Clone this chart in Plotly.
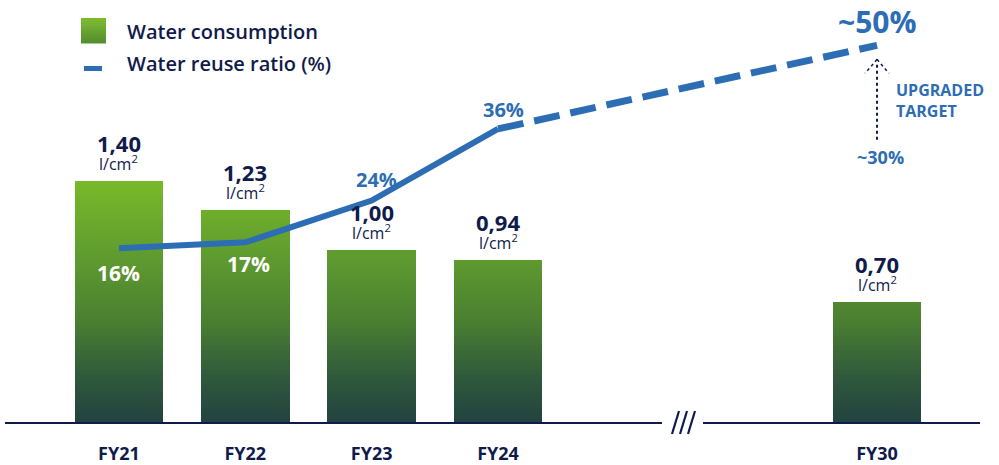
import numpy as np
import plotly.graph_objects as go

# ---------------- data ----------------
years = ["FY21", "FY22", "FY23", "FY24", "FY30"]
slot = [0, 1, 2, 3, 6]                 # category slots (FY25-29 left out -> axis break)
water = [1.40, 1.23, 1.00, 0.94, 0.70]  # l/cm2
reuse = [16, 17, 24, 36, 50]            # %
n_actual = 4                            # FY21..FY24 actual, FY30 target
old_target = 30                         # previous FY30 target (%)

# ---------------- styles ----------------
NAVY = "#101b4b"
BLUE = "#2d6db4"
FONT = "Open Sans"
stops = [(0.0, (0x22, 0x42, 0x40)), (0.25, (0x2f, 0x58, 0x3c)), (0.6, (0x4b, 0x80, 0x31)),
         (1.0, (0x61, 0x9e, 0x2f)), (1.4, (0x79, 0xb9, 0x2a))]


def grad(v):
    for (a, ca), (b, cb) in zip(stops[:-1], stops[1:]):
        if v <= b or b == stops[-1][0]:
            t = min(max((v - a) / (b - a), 0), 1)
            c = [round(ca[i] + (cb[i] - ca[i]) * t) for i in range(3)]
            return "rgb(%d,%d,%d)" % tuple(c)


W, H = 999, 465
ML, MR, MT, MB = 5, 19, 0, 43
PW, PH = W - ML - MR, H - MT - MB


def pp(x, y):
    return (x - ML) / PW, (PH + MT - y) / PH


fig = go.Figure()

# gradient bars: overlapping layers, each from its level to the bar top
wv = np.array(water)
step = 0.02
for lv in np.arange(0, wv.max(), step):
    h = np.clip(wv - lv, 0, None)
    fig.add_trace(go.Bar(x=slot, y=h, base=lv, width=0.7, marker=dict(color=grad(lv + step / 2), line_width=0),
                         showlegend=False, hoverinfo="skip"))

# reuse ratio line
fig.add_trace(go.Scatter(x=slot[:n_actual], y=reuse[:n_actual], yaxis="y2", mode="lines",
                         line=dict(color=BLUE, width=6), showlegend=False, hoverinfo="skip"))
fig.add_trace(go.Scatter(x=slot[n_actual - 1:], y=reuse[n_actual - 1:], yaxis="y2", mode="lines",
                         line=dict(color=BLUE, width=7, dash="26px,11px"), showlegend=False, hoverinfo="skip"))

ann = []
# bar value labels
for s, v in zip(slot, water):
    ann.append(dict(x=s, y=v, xref="x", yref="y", text="<b>%s</b>" % ("%.2f" % v).replace(".", ","),
                    showarrow=False, yshift=38, font=dict(family=FONT, size=22, color=NAVY)))
    ann.append(dict(x=s, y=v, xref="x", yref="y", text="l/cm<sup>2</sup>",
                    showarrow=False, yshift=18, font=dict(family=FONT, size=16, color=NAVY)))

# reuse labels
lab_shift = [-25, -22, 21, 19, 24]
lab_col = ["white", "white", BLUE, BLUE, BLUE]
lab_size = [21, 21, 20, 20, 30]
lab_dx = [0, 3, 5, 5, 0]
for i, (s, r) in enumerate(zip(slot, reuse)):
    txt = ("~%d%%" if i >= n_actual else "%d%%") % r
    ann.append(dict(x=s, y=r, xref="x", yref="y2", text="<b>%s</b>" % txt, showarrow=False,
                    yshift=lab_shift[i], xshift=lab_dx[i],
                    font=dict(family=FONT, size=lab_size[i], color=lab_col[i])))

ann.append(dict(x=slot[-1], y=old_target, xref="x", yref="y2", text="<b>~%d%%</b>" % old_target,
                showarrow=False, yshift=8, xshift=3, font=dict(family=FONT, size=18, color=BLUE)))
ax, ay = pp(894, 100)
ann.append(dict(x=ax, y=ay, xref="paper", yref="paper", text="<b>UPGRADED<br>TARGET</b>", showarrow=False,
                xanchor="left", yanchor="middle", align="left", font=dict(family=FONT, size=16, color=BLUE)))

# legend
lx, ly = pp(125, 31)
ann.append(dict(x=lx, y=ly, xref="paper", yref="paper", text="Water consumption", showarrow=False,
                xanchor="left", yanchor="middle", font=dict(family=FONT, size=20, color=NAVY, weight=600)))
lx, ly = pp(125, 63)
ann.append(dict(x=lx, y=ly, xref="paper", yref="paper", text="Water reuse ratio (%)", showarrow=False,
                xanchor="left", yanchor="middle", font=dict(family=FONT, size=20, color=NAVY, weight=600)))

shapes = []
nsq = 12
for k in range(nsq):
    x0, y0 = pp(81, 18 + 25 * k / nsq)
    x1, y1 = pp(106, 18 + 25 * (k + 1) / nsq + 0.5)
    shapes.append(dict(type="rect", xref="paper", yref="paper", x0=x0, x1=x1, y0=y1, y1=y0,
                       fillcolor=grad(1.4 - 0.65 * k / nsq), line_width=0))
x0, y0 = pp(84, 66)
x1, y1 = pp(102, 71)
shapes.append(dict(type="rect", xref="paper", yref="paper", x0=x0, x1=x1, y0=y1, y1=y0,
                   fillcolor=BLUE, line_width=0))

# dotted arrow from old target to new target
shapes.append(dict(type="line", xref="x", yref="y2", x0=slot[-1], x1=slot[-1],
                   ysizemode="pixel", yanchor=old_target, y0=25, y1=100,
                   line=dict(color=NAVY, width=2, dash="dot")))
for d in (-12, 12):
    shapes.append(dict(type="line", xref="x", yref="y2", xsizemode="pixel", xanchor=slot[-1],
                       x0=0, x1=d, ysizemode="pixel", yanchor=reuse[-1], y0=-14, y1=-28,
                       line=dict(color=NAVY, width=1.5, dash="dot")))

# axis break
bx0, by0 = pp(662, 416)
bx1, by1 = pp(703, 428)
shapes.append(dict(type="rect", xref="paper", yref="paper", x0=bx0, x1=bx1, y0=by1, y1=by0,
                   fillcolor="white", line_width=0, layer="above"))
for xb in (672, 680, 688):
    x0, y0 = pp(xb, 434)
    x1, y1 = pp(xb + 7, 411)
    shapes.append(dict(type="line", xref="paper", yref="paper", x0=x0, y0=y0, x1=x1, y1=y1,
                       line=dict(color=NAVY, width=2.2)))

fig.update_layout(
    width=W, height=H, margin=dict(l=ML, r=MR, t=MT, b=MB, autoexpand=False),
    paper_bgcolor="white", plot_bgcolor="white", barmode="overlay", bargap=0,
    showlegend=False, annotations=ann, shapes=shapes,
    xaxis=dict(range=[-0.902, 6.815], tickvals=slot, ticktext=["<b>%s</b>" % y for y in years],
               tickfont=dict(family=FONT, size=18, color=NAVY), showgrid=False, zeroline=False,
               showline=True, linecolor=NAVY, linewidth=2, ticks="", ticklabelstandoff=14,
               automargin=False),
    yaxis=dict(range=[0, 2.4535], visible=False, showgrid=False, zeroline=False, automargin=False),
    yaxis2=dict(range=[-13.1, 57.6], overlaying="y", visible=False, showgrid=False, zeroline=False,
                automargin=False),
)
fig.write_html("out.html", config={"displayModeBar": False},
               post_script="document.body.style.margin='0';document.body.style.overflow='hidden';")
